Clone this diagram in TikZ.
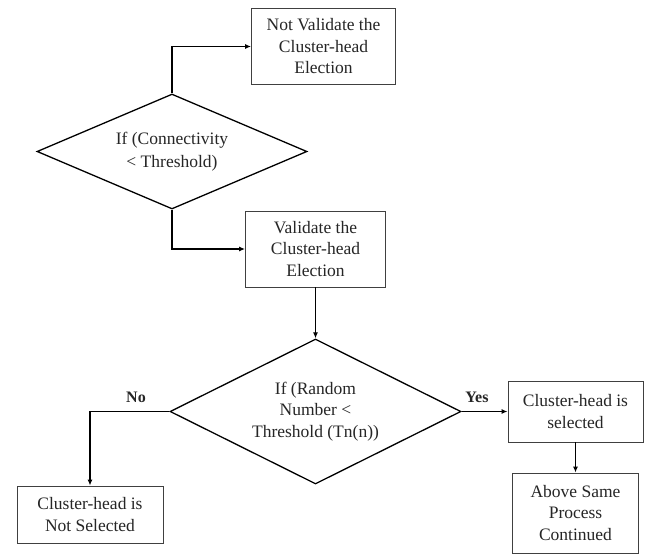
\documentclass[tikz,border=0pt]{standalone}
\usepackage{fontspec}
\setmainfont{Liberation Serif}[Ligatures=TeX]
\usetikzlibrary{shapes.geometric,arrows.meta}
\begin{document}
\begin{tikzpicture}[x=1pt,y=-1pt,
  every node/.style={font=\rmfamily\fontsize{17.5}{21.5}\selectfont, text=black!85},
  stepbox/.style={draw=black!75, line width=0.9pt, rectangle, align=center, inner sep=0pt},
  decision/.style={draw=black, line width=1.3pt, diamond, aspect=2, align=center, inner sep=0pt},
  arr/.style={draw=black, line width=1.4pt, -{Latex[length=6pt,width=5pt]}},
  lbl/.style={font=\rmfamily\fontsize{16}{20}\selectfont\bfseries}]
  \useasboundingbox[fill=white] (0,0) rectangle (645,554);

  % first test: connectivity
  \node[decision, minimum width=270, minimum height=115] (d1) at (172,151.5)
    {If (Connectivity\\[1pt]{<} Threshold)};
  \node[stepbox, minimum width=144, minimum height=76] (b1) at (323.5,46.5)
    {Not Validate the\\Cluster-head\\Election};
  \node[stepbox, minimum width=140, minimum height=76] (b2) at (315.5,249)
    {Validate the\\Cluster-head\\Election};

  % second test: random number
  \node[decision, minimum width=291, minimum height=145] (d2) at (315.5,411.5)
    {If (Random\\Number {<}\\Threshold (Tn(n))};
  \node[stepbox, minimum width=135, minimum height=61] (b3) at (575.5,411.5)
    {Cluster-head is\\selected};
  \node[stepbox, minimum width=126, minimum height=80] (b4) at (575.5,513)
    {Above Same\\Process\\Continued};
  \node[stepbox, minimum width=146, minimum height=57] (b5) at (90,514.5)
    {Cluster-head is\\Not Selected};

  % connectors
  \draw[arr] (d1.north) |- (b1.west);
  \draw[arr] (d1.south) |- (b2.west);
  \draw[arr] (b2.south) -- (d2.north);
  \draw[arr] (d2.west) -| (b5.north);
  \draw[arr] (d2.east) -- (b3.west);
  \draw[arr] (b3.south) -- (b4.north);

  % branch labels
  \node[lbl] (no) at (136,397) {No};
  \node[lbl] (yes) at (477,397) {Yes};
\end{tikzpicture}
\end{document}
